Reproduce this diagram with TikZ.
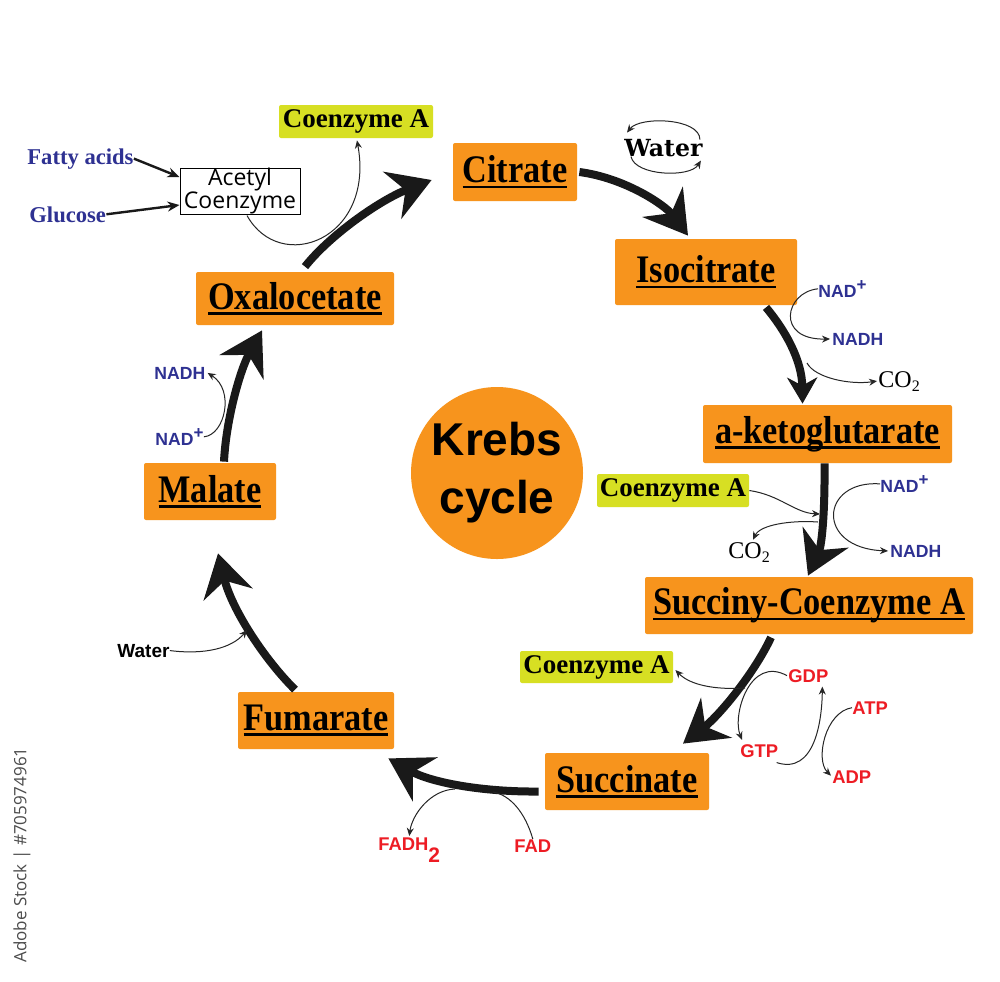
\documentclass[tikz,border=0pt]{standalone}
\usepackage{fontspec}
\setmainfont{Liberation Serif}
\newfontfamily\boxf{Liberation Serif}[FakeStretch=0.88]
\newfontfamily\lsans{Liberation Sans}
\newfontfamily\dvs{DejaVu Serif}
\newfontfamily\osans{Open Sans}
\usetikzlibrary{arrows.meta,calc}
\definecolor{kor}{HTML}{F7941D}
\definecolor{kye}{HTML}{D7DF23}
\definecolor{kbl}{HTML}{2E3192}
\definecolor{kre}{HTML}{ED1C24}
\newcommand\ulbox[1]{\setbox0\hbox{#1}\rlap{\rule[-2.7pt]{\wd0}{1.3pt}}\box0}
\newcommand\plussup{\raisebox{3.2pt}{\fontsize{8.5}{8.5}\selectfont +}}
\begin{document}
\begin{tikzpicture}[x=0.5pt,y=-0.5pt,
  ob/.style={fill=kor, rounded corners=1pt, inner sep=0pt, font=\boxf\bfseries\fontsize{19.5}{22}\selectfont},
  yb/.style={fill=kye, rounded corners=1pt, inner sep=0pt, font=\bfseries\fontsize{13.5}{14}\selectfont},
  lbl/.style={inner sep=0pt, anchor=base west},
  blu/.style={lbl, text=kbl, font=\lsans\bfseries\fontsize{8.8}{9}\selectfont},
  redl/.style={lbl, text=kre, font=\lsans\bfseries\fontsize{9.2}{10}\selectfont},
  bigarr/.style={line width=4pt, draw=black!90, -{Stealth[length=21pt,width=25pt,inset=7pt]}},
  smallhead/.style={-{Stealth[length=13pt,width=15pt,inset=4pt]}},
  thinarr/.style={line width=0.5pt, draw=black!85, -{Stealth[length=4pt,width=3.5pt]}},
  medarr/.style={line width=1.2pt, draw=black!90, -{Stealth[length=6pt,width=5pt]}}
]
\fill[white] (0,0) rectangle (1000,981);
\useasboundingbox (0,0) rectangle (1000,981);

% cycle boxes
\node[ob, minimum width=62pt, minimum height=29pt] (cit) at (515,172) {\ulbox{Citrate}};
\node[ob, minimum width=91pt, minimum height=33pt] (iso) at (706,272) {\ulbox{Isocitrate}};
\node[ob, minimum width=124.5pt, minimum height=29pt] (akg) at (827.5,434) {\ulbox{a-ketoglutarate}};
\node[ob, minimum width=164pt, minimum height=28.5pt] (suc) at (809,605.5) {\ulbox{Succiny-Coenzyme A}};
\node[ob, minimum width=82pt, minimum height=28.5pt] (sucn) at (627,781.5) {\ulbox{Succinate}};
\node[ob, minimum width=78pt, minimum height=28.5pt] (fum) at (316,720.5) {\ulbox{Fumarate}};
\node[ob, minimum width=66pt, minimum height=28.5pt] (mal) at (210,491.5) {\ulbox{Malate}};
\node[ob, minimum width=99pt, minimum height=26.5pt] (oxa) at (295,298.5) {\ulbox{Oxalocetate}};

\node[circle, fill=kor, minimum size=86pt, inner sep=0pt, align=center,
  font=\lsans\bfseries\fontsize{23}{29}\selectfont] (kc) at (497,473) {Krebs\\cycle};

% coenzyme A boxes
\node[yb, minimum width=77pt, minimum height=16.5pt] (coaT) at (356,121.5) {Coenzyme A};
\node[yb, minimum width=76pt, minimum height=16.5pt] (coaM) at (673,490.5) {Coenzyme A};
\node[yb, minimum width=76.5pt, minimum height=16pt] (coaL) at (596.5,667) {Coenzyme A};

\node[draw, line width=0.5pt, minimum width=60pt, minimum height=23pt, inner sep=0pt, align=center,
  font=\osans\fontsize{11.5}{11.5}\selectfont] (acet) at (240,191) {Acetyl\\Coenzyme};

% labels
\node[lbl, text=kbl, font=\bfseries\fontsize{11.3}{12}\selectfont] (fatty) at (27,164) {Fatty acids};
\node[lbl, text=kbl, font=\bfseries\fontsize{11.3}{12}\selectfont] (gluc) at (29,222) {Glucose};
\node[lbl, font=\dvs\bfseries\fontsize{11.8}{12}\selectfont] (w1) at (624,156) {Water};
\node[blu] (nadp1) at (818,297) {NAD\plussup};
\node[blu] (nadh1) at (832,345) {NADH};
\node[lbl, font=\fontsize{12}{12}\selectfont] (co2a) at (878,387) {CO\raisebox{-2pt}{\fontsize{8}{8}\selectfont 2}};
\node[blu] (nadp2) at (880,492) {NAD\plussup};
\node[blu] (nadh2) at (890,557) {NADH};
\node[lbl, font=\fontsize{12}{12}\selectfont] (co2b) at (728,558) {CO\raisebox{-2pt}{\fontsize{8}{8}\selectfont 2}};
\node[redl] (gdp) at (788,682) {GDP};
\node[redl] (atp) at (852,714) {ATP};
\node[redl] (gtp) at (740,757) {GTP};
\node[redl] (adp) at (832,783) {ADP};
\node[redl] (fadh) at (378,850) {FADH\raisebox{-6pt}{\fontsize{10.5}{10.5}\selectfont 2}};
\node[redl] (fad) at (514,852) {FAD};
\node[blu] (nadh3) at (154,379) {NADH};
\node[blu] (nadp3) at (155,445) {NAD\plussup};
\node[lbl, font=\lsans\bfseries\fontsize{9.5}{10}\selectfont] (w2) at (117,657) {Water};

\node[rotate=90, text=black!70, font=\osans\fontsize{8.5}{9}\selectfont] (wm) at (22,855) {Adobe Stock | \#705974961};

% junction points on the big arrows
\coordinate (c1) at (807,363);
\coordinate (k1) at (820,514);
\coordinate (k2) at (818,522);
\coordinate (s1) at (745,688);
\coordinate (f1) at (493,792);
\coordinate (f2) at (455,789);
\coordinate (m1) at (247,630);

% big cycle arrows
\draw[bigarr] ($(oxa.north)+(10,-5)$) .. controls (330,235) and (380,200) .. ($(cit.west)+(-21,8)$);
\draw[bigarr] ($(cit.east)+(2,0)$) .. controls (625,178) and (665,205) .. ($(iso.north)+(-18,-3)$);
\draw[bigarr,smallhead] ($(iso.south)+(60,2)$) .. controls (785,330) and (802,360) .. ($(akg.north)+(-25,-1)$);
\draw[bigarr] ($(akg.south)+(-3,0)$) .. controls (825,510) and (822,545) .. ($(suc.north)+(-1,-1)$);
\draw[bigarr] ($(suc.south)+(-38,3)$) .. controls (755,672) and (720,715) .. ($(sucn.north)+(56,-9)$);
\draw[bigarr] ($(sucn.west)+(-6,10)$) .. controls (480,792) and (430,782) .. ($(fum.south east)+(-6,9)$);
\draw[bigarr] ($(fum.north)+(-21,-2)$) .. controls (265,660) and (232,610) .. ($(mal.south)+(8,33)$);
\draw[bigarr] ($(mal.north)+(14,-1)$) .. controls (226,420) and (240,370) .. ($(oxa.south)+(-33,5)$);

% inputs
\draw[medarr] (fatty.east) -- ($(acet.west)+(0,-14)$);
\draw[medarr] (gluc.east) -- ($(acet.west)+(0,14)$);
\draw[thinarr] ($(acet.south)+(7,1)$) .. controls (280,275) and (375,240) .. ($(coaT.south)+(1,2)$);

% water (citrate -> isocitrate)
\draw[thinarr] ($(w1.east)+(-3,-8)$) .. controls (700,118) and (640,116) .. ($(w1.west)+(3,-15)$);
\draw[thinarr] ($(w1.west)+(7,9)$) .. controls (635,176) and (690,178) .. ($(w1.east)+(-2,13)$);

% isocitrate -> a-ketoglutarate
\draw[thinarr] (nadp1.west) .. controls (785,292) and (775,340) .. ($(nadh1.west)+(-2,0)$);
\draw[thinarr] (c1) .. controls (815,378) and (850,385) .. ($(co2a.west)+(-1,0)$);

% a-ketoglutarate -> succinyl
\draw[thinarr] (coaM.east) .. controls (780,495) and (795,513) .. (k1);
\draw[thinarr] (nadp2.west) .. controls (820,480) and (815,548) .. ($(nadh2.west)+(-2,0)$);
\draw[thinarr] (k2) .. controls (790,520) and (760,525) .. ($(co2b.north)+(4,-2)$);

% succinyl -> succinate
\draw[thinarr] (s1) .. controls (715,690) and (690,685) .. ($(coaL.east)+(2,3)$);
\draw[thinarr] ($(gdp.west)+(-1,0)$) .. controls (750,655) and (732,715) .. ($(gtp.north west)+(2,-4)$);
\draw[thinarr] ($(gtp.south east)+(-2,5)$) .. controls (815,775) and (822,720) .. ($(gdp.south)+(14,4)$);
\draw[thinarr] (atp.west) .. controls (825,712) and (815,760) .. ($(adp.west)+(-1,-1)$);

% succinate -> fumarate
\draw[line width=0.5pt, draw=black!85] (fad.north) .. controls (525,812) and (510,795) .. (f1);
\draw[thinarr] (f2) .. controls (430,790) and (412,815) .. ($(fadh.north)+(0,-1)$);

% fumarate -> malate
\draw[thinarr] (w2.east) .. controls (205,655) and (232,648) .. (m1);

% malate -> oxalocetate
\draw[thinarr] (nadp3.east) .. controls (225,435) and (235,390) .. ($(nadh3.east)+(2,0)$);
\end{tikzpicture}
\end{document}
